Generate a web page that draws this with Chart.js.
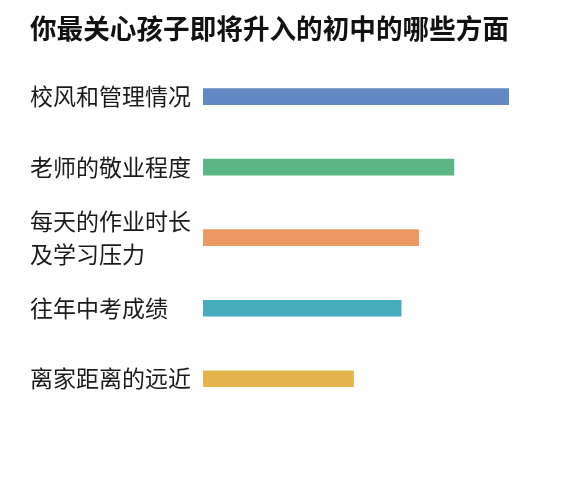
<!DOCTYPE html>
<html>
<head>
<meta charset="utf-8">
<script src="https://cdn.jsdelivr.net/npm/chart.js@4.4.1/dist/chart.umd.min.js"></script>
<style>
  html, body { margin: 0; padding: 0; background: #fff; }
  #wrap { width: 562px; height: 490px; }
</style>
</head>
<body>
<div id="wrap"><canvas id="grafico" width="562" height="490"></canvas></div>
<script>
// datos del grafico
const titulo = '你最关心孩子即将升入的初中的哪些方面';
const categorias = [
    '校风和管理情况',
    '老师的敬业程度',
    ['每天的作业时长', '及学习压力'],
    '往年中考成绩',
    '离家距离的远近'
];
const valores = [61, 50, 43, 39.5, 30];
const colores = ['#6389c3', '#5bb584', '#eb9861', '#45acbb', '#e5b34c'];

const ctx = document.getElementById('grafico').getContext('2d');

window.graficaAspectos = new Chart(ctx, {
    type: 'bar',
    data: {
        labels: categorias,
        datasets: [{
            data: valores,
            backgroundColor: colores,
            borderWidth: 0,
            barThickness: 16
        }]
    },
    options: {
        indexAxis: 'y',
        responsive: false,
        animation: false,
        devicePixelRatio: 1,
        layout: {
            padding: { top: 0, left: 30, right: 53, bottom: 76 }
        },
        plugins: {
            legend: { display: false },
            tooltip: { enabled: false },
            title: {
                display: true,
                text: titulo,
                align: 'start',
                color: '#111',
                font: { family: '"Noto Sans CJK SC", sans-serif', size: 27, weight: 'bold' },
                padding: { top: 13, bottom: 16 }
            }
        },
        scales: {
            x: {
                display: false,
                min: 0,
                max: valores[0]
            },
            y: {
                grid: { display: false },
                border: { display: false },
                // ancho fijo del eje para que las barras empiecen en el mismo sitio
                afterFit: (scale) => { scale.width = 173; },
                ticks: {
                    color: '#1a1a1a',
                    crossAlign: 'far',
                    padding: 10,
                    font: { family: '"Noto Sans CJK SC", sans-serif', size: 23, lineHeight: 1.45 }
                }
            }
        }
    }
});
</script>
</body>
</html>
